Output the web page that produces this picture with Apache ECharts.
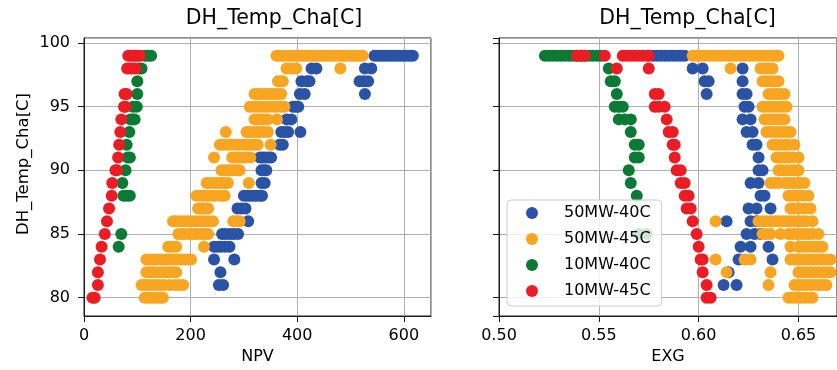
<!DOCTYPE html>
<html>
<head>
<meta charset="utf-8">
<script src="https://cdn.jsdelivr.net/npm/echarts@6/dist/echarts.min.js"></script>
<style>
html,body{margin:0;padding:0;background:#ffffff;}
#chart{width:837px;height:370px;}
</style>
</head>
<body>
<div id="chart"></div>
<script>
// ---- Data (one row per temperature level, top to bottom) ----
const temps = [99,98,97,96,95,94,93,92,91,90,89,88,87,86,85,84,83,82,81,80];
const seriesNames = ['50MW-40C','50MW-45C','10MW-40C','10MW-45C'];
const titleText = 'DH_Temp_Cha[C]';
const yLabel = 'DH_Temp_Cha[C]';
const xLabelLeft = 'NPV';
const xLabelRight = 'EXG';

// NPV (left panel)
const npv_50MW_40C = [
  [545,551,557,563,569,575,581,587,593,599,605,611,617],
  [427,436,527,539],
  [408,418,423,517,525,533],
  [405,414,527],
  [392,398,402],
  [380,389],
  [370,377,383,406],
  [367,373],
  [330,335,340,346,351],
  [333,338,342],
  [333,339],
  [300,306,312,318,324,330,334],
  [288,295,303],
  [308],
  [259,266,274,281,289],
  [244,250,257,265,273],
  [244,282],
  [256],
  [253,261],
  []
];
const npv_50MW_45C = [
  [361,367,373,379,385,391,397,403,409,415,421,427,433,439,445,451,457,463,469,475,481,487,493,499,505,511,517,523],
  [380,388,398,481],
  [364,369,373],
  [320,326,332,339,345,352,358,364,370],
  [311,318,325,332,340,347,355,362,370,376],
  [320,326,333,339,345,362],
  [266,305,311,318,324,330,337,345],
  [255,262,270,277,285,292,300,307,315,321,326,350],
  [244,278,284,291,298,305,312],
  [258,264,270,276,282,288,292],
  [230,237,245,251,258,264,270,309],
  [211,218,225,232,240,247,255,260,264],
  [214,220,225,230,233],
  [167,173,180,188,195,203,210,218,225,233,242,280,286,292],
  [177,184,190,198,205,212,220,227,233],
  [158,165,173,225],
  [117,123,130,137,145,152,160,167,175,182,190,196,201],
  [117,124,130,138,145,152,160,166,173],
  [108,114,120,128,135,142,150,160,170,178,186],
  [114,120,125,131,137,143,148]
];
const npv_10MW_40C = [
  [114,120,126],
  [104,108],
  [100],
  [100],
  [92,99],
  [87,91,95],
  [85],
  [80],
  [82,86],
  [78],
  [72],
  [74,80,86],
  [],
  [],
  [70],
  [65],
  [],
  [],
  [],
  []
];
const npv_10MW_45C = [
  [83,88,93,97,101,105],
  [81,86,91,97],
  [],
  [76,80],
  [75,78],
  [70],
  [68],
  [66],
  [64],
  [59,62],
  [53],
  [52],
  [47],
  [43],
  [39],
  [33],
  [30],
  [26],
  [26],
  [16,20]
];

// EXG (right panel)
const exg_50MW_40C = [
  [0.577,0.579,0.581,0.583,0.585,0.587,0.589,0.591,0.593],
  [0.597,0.602,0.622],
  [0.603,0.605,0.622],
  [0.604,0.622,0.624],
  [0.623,0.625],
  [0.622,0.626],
  [0.624,0.627],
  [0.627,0.629],
  [0.630],
  [0.630,0.632],
  [0.626,0.630],
  [0.631,0.633],
  [0.625,0.629,0.636],
  [0.614,0.626,0.629],
  [0.624,0.628,0.631],
  [0.621,0.626,0.635],
  [0.620,0.637],
  [0.615],
  [0.6125,0.619],
  []
];
const exg_50MW_45C = [
  [0.597,0.599,0.601,0.603,0.605,0.607,0.609,0.611,0.613,0.615,0.617,0.619,0.621,0.623,0.625,0.627,0.629,0.631,0.633,0.635,0.637,0.639,0.640],
  [0.616,0.631,0.633,0.635,0.637],
  [0.632,0.634,0.636,0.638,0.640],
  [0.635,0.637,0.639,0.641,0.643],
  [0.632,0.634,0.636,0.638,0.640,0.642,0.644],
  [0.633,0.635,0.637,0.639,0.641,0.643],
  [0.634,0.636,0.638,0.640,0.642,0.644,0.646],
  [0.637,0.639,0.641,0.643,0.645,0.648],
  [0.639,0.641,0.643,0.645,0.647,0.650],
  [0.640,0.642,0.644,0.646,0.648,0.650],
  [0.636,0.638,0.640,0.643,0.645,0.647,0.649,0.651,0.653],
  [0.645,0.647,0.649,0.652,0.655],
  [0.646,0.648,0.650,0.653,0.656],
  [0.6085,0.630,0.632,0.634,0.636,0.638,0.640,0.642,0.644,0.646,0.648,0.650,0.652,0.654,0.657],
  [0.632,0.634,0.636,0.641,0.645,0.647,0.649,0.651,0.653,0.655,0.657,0.660],
  [0.646,0.650,0.652,0.654,0.656,0.658,0.660,0.662],
  [0.6085,0.623,0.626,0.646,0.648,0.650,0.652,0.654,0.656,0.658,0.660,0.662,0.664,0.666],
  [0.614,0.636,0.650,0.652,0.654,0.656,0.658,0.660,0.662,0.664,0.666],
  [0.635,0.648,0.650,0.652,0.654,0.656,0.658,0.660,0.662,0.664],
  [0.645,0.647,0.649,0.651,0.653,0.655,0.657]
];
const exg_10MW_40C = [
  [0.523,0.525,0.527,0.529,0.531,0.533,0.535,0.537,0.539,0.541,0.543,0.545,0.547,0.549,0.551],
  [0.555],
  [0.556,0.558],
  [0.559],
  [0.558,0.560,0.562],
  [0.560,0.563,0.566],
  [0.566],
  [0.568,0.570],
  [0.568,0.570],
  [0.565],
  [0.566],
  [0.569],
  [],
  [],
  [0.570,0.574],
  [],
  [],
  [],
  [],
  []
];
const exg_10MW_45C = [
  [0.539,0.541,0.543,0.553,0.562,0.564,0.566,0.568,0.570,0.572,0.574,0.575],
  [0.559,0.575],
  [],
  [0.578,0.580],
  [0.578,0.580,0.583],
  [0.584],
  [0.585,0.587],
  [0.587,0.588],
  [0.588],
  [0.589,0.591],
  [0.591,0.593],
  [0.593,0.595],
  [0.594,0.596],
  [0.597],
  [0.599],
  [0.600],
  [0.601,0.602],
  [0.602],
  [0.604],
  [0.604,0.606]
];

// Axis settings (values)
const npvMin = 0, npvMax = 651, npvInterval = 200;
const exgMin = 0.50, exgMax = 0.6693, exgInterval = 0.05;
const tempMin = 78.56, tempMax = 100.39;

// ---- Build chart ----
const colors = ['#2a52a5','#f8a521','#0b7a35','#ec1c24'];
const FONT = 'DejaVu Sans';

function toPairs(rows){
  const out = [];
  rows.forEach((xs, i) => xs.forEach(x => out.push([x, temps[i]])));
  return out;
}

const leftSets = [npv_50MW_40C, npv_50MW_45C, npv_10MW_40C, npv_10MW_45C];
const rightSets = [exg_50MW_40C, exg_50MW_45C, exg_10MW_40C, exg_10MW_45C];

const series = [];
leftSets.forEach((rows, k) => series.push({
  type: 'scatter', name: seriesNames[k], xAxisIndex: 0, yAxisIndex: 0,
  data: toPairs(rows), symbolSize: 12,
  itemStyle: {color: colors[k], opacity: 1}
}));
rightSets.forEach((rows, k) => series.push({
  type: 'scatter', name: seriesNames[k], xAxisIndex: 1, yAxisIndex: 1,
  data: toPairs(rows), symbolSize: 12,
  itemStyle: {color: colors[k], opacity: 1}
}));

const gridCommon = {top: 38, height: 278, width: 347, show: true, borderColor: '#1a1a1a', borderWidth: 1, backgroundColor: 'transparent'};
const tickStyle = {show: true, length: 6, inside: false, lineStyle: {color: '#1a1a1a', width: 1}};
const splitStyle = {show: true, lineStyle: {color: '#b0b0b0', width: 1}};
const labelStyle = {color: '#000', fontFamily: FONT, fontSize: 16};

function xAxis(idx, min, max, interval, name, fmt){
  return {
    type: 'value', gridIndex: idx, min: min, max: max, interval: interval,
    name: name, nameLocation: 'middle', nameGap: 31,
    nameTextStyle: {color: '#000', fontFamily: FONT, fontSize: 16},
    axisLine: {show: true, onZero: false, lineStyle: {color: '#1a1a1a', width: 1}},
    axisTick: tickStyle, splitLine: splitStyle,
    axisLabel: Object.assign({margin: 12, showMaxLabel: false, formatter: fmt}, labelStyle)
  };
}
function yAxis(idx, showLabels){
  return {
    type: 'value', gridIndex: idx, min: tempMin, max: tempMax, splitNumber: 5,
    name: showLabels ? yLabel : '', nameLocation: 'middle', nameGap: 52,
    nameTextStyle: {color: '#000', fontFamily: FONT, fontSize: 16.5, padding: [0, 0, 0, 26]},
    axisLine: {show: true, onZero: false, lineStyle: {color: '#1a1a1a', width: 1}},
    axisTick: tickStyle, splitLine: splitStyle,
    axisLabel: Object.assign({show: showLabels, margin: 14, showMinLabel: false, showMaxLabel: false}, labelStyle)
  };
}

const option = {
  animation: false,
  backgroundColor: '#ffffff',
  title: [
    {text: titleText, left: 274, top: 8, textAlign: 'center', padding: 0,
     textStyle: {color: '#000', fontFamily: FONT, fontSize: 20.5, fontWeight: 'normal'}},
    {text: titleText, left: 687.5, top: 8, textAlign: 'center', padding: 0,
     textStyle: {color: '#000', fontFamily: FONT, fontSize: 20.5, fontWeight: 'normal'}}
  ],
  legend: {
    data: seriesNames, orient: 'vertical', left: 507, top: 200,
    icon: 'circle', itemWidth: 12, itemHeight: 12, itemGap: 10,
    padding: [5, 11, 7, 19],
    backgroundColor: 'rgba(255,255,255,0.8)', borderColor: '#cccccc', borderWidth: 1, borderRadius: 4,
    formatter: function(name){ return '{gap|}' + name; },
    textStyle: {color: '#000', fontFamily: FONT, fontSize: 16, lineHeight: 16,
      rich: {gap: {width: 21}}},
    selectedMode: false
  },
  grid: [
    Object.assign({left: 84}, gridCommon),
    Object.assign({left: 499}, gridCommon)
  ],
  xAxis: [
    xAxis(0, npvMin, npvMax, npvInterval, xLabelLeft, v => String(Math.round(v))),
    xAxis(1, exgMin, exgMax, exgInterval, xLabelRight, v => v.toFixed(2))
  ],
  yAxis: [yAxis(0, true), yAxis(1, false)],
  series: series
};

const chart = echarts.init(document.getElementById('chart'), null, {renderer: 'canvas'});
chart.setOption(option);
</script>
</body>
</html>
